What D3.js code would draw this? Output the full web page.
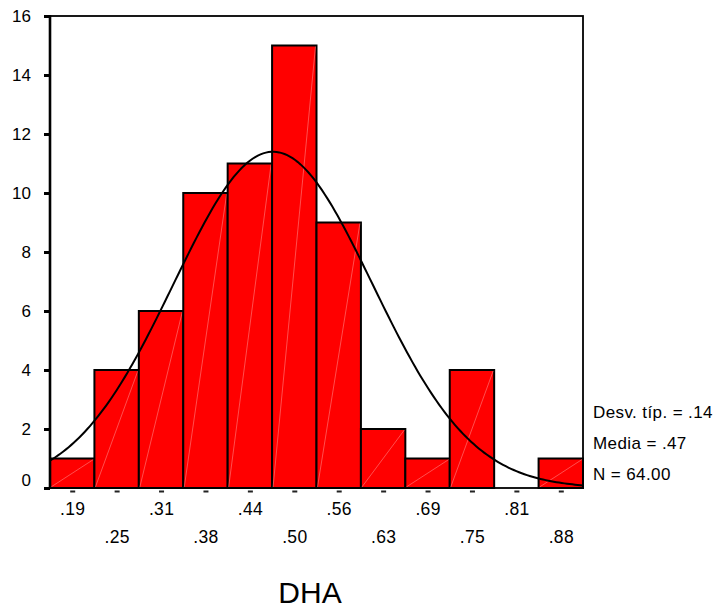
<!DOCTYPE html>
<html><head><meta charset="utf-8">
<script src="https://cdn.jsdelivr.net/npm/d3@7"></script>
<style>body{margin:0;background:#fff}svg{display:block}text{font-family:"Liberation Sans",Arial,sans-serif;fill:#000}</style>
</head><body><svg id="c" width="719" height="610"></svg>
<script>
const binCenters = [0.1875,0.25,0.3125,0.375,0.4375,0.5,0.5625,0.625,0.6875,0.75,0.8125,0.875];
const binLabels = [".19",".25",".31",".38",".44",".50",".56",".63",".69",".75",".81",".88"];
const counts = [1,4,6,10,11,15,9,2,1,4,0,1];
const yTicks = [0,2,4,6,8,10,12,14,16];
const statsLabels = ["Desv. típ. = .14","Media = .47","N = 64.00"];
const stdDev = 0.14, mean = 0.47, nTotal = 64;
const xTitle = "DHA";

const binW = 0.0625;
const svg = d3.select("#c");
const L=50, R=583, T=16, B=488;
const x = d3.scaleLinear().domain([binCenters[0]-binW/2, binCenters[binCenters.length-1]+binW/2]).range([L,R]);
const y = d3.scaleLinear().domain([0,16]).range([B,T]);

// bars
const bars = svg.append("g");
binCenters.forEach((c,i)=>{
  if(counts[i]<=0) return;
  const x0=x(c-binW/2), x1=x(c+binW/2), y0=y(counts[i]);
  bars.append("rect").attr("x",x0).attr("y",y0).attr("width",x1-x0).attr("height",B-y0)
    .attr("fill","#ff0000").attr("stroke","#000").attr("stroke-width",2);
  bars.append("line").attr("x1",x0+1).attr("y1",B-1).attr("x2",x1-1).attr("y2",y0+1)
    .attr("stroke","#ffa0a0").attr("stroke-width",0.7).attr("opacity",0.7);
});

// frame
svg.append("rect").attr("x",L).attr("y",T).attr("width",R-L).attr("height",B-T)
  .attr("fill","none").attr("stroke","#000").attr("stroke-width",1.8);
svg.append("line").attr("x1",L).attr("x2",L).attr("y1",T-1).attr("y2",B+1).attr("stroke","#000").attr("stroke-width",2.6);

// normal curve
const normPts = d3.range(0,201).map(k=>{
  const v = x.domain()[0] + k*(x.domain()[1]-x.domain()[0])/200;
  const d = nTotal*binW/(stdDev*Math.sqrt(2*Math.PI))*Math.exp(-0.5*((v-mean)/stdDev)**2);
  return [x(v), y(d)];
});
svg.append("path").attr("d",d3.line()(normPts)).attr("fill","none").attr("stroke","#000").attr("stroke-width",2);

// y axis ticks
const yAxis = d3.axisLeft(y).tickValues(yTicks).tickSize(6).tickPadding(13).tickFormat(d3.format("d"));
const ga = svg.append("g").attr("transform",`translate(${L},0)`).call(yAxis);
ga.select(".domain").remove();
ga.selectAll(".tick line").attr("stroke","#000").attr("stroke-width",3);
ga.selectAll(".tick text").attr("font-size",17).attr("font-family","Liberation Sans, Arial, sans-serif")
  .attr("dy", d=> d===0 ? "-0.15em" : "0.32em");

// x axis ticks
const xAxis = d3.axisBottom(x).tickValues(binCenters).tickSize(0).tickFormat((d,i)=>binLabels[i]);
const gx = svg.append("g").attr("transform",`translate(0,${B})`).call(xAxis);
gx.select(".domain").remove();
gx.selectAll(".tick text").attr("font-size",17.5).attr("font-family","Liberation Sans, Arial, sans-serif")
  .attr("letter-spacing","0.3px")
  .attr("y",(d,i)=> i%2===0 ? 27 : 54.5).attr("dy",0);
gx.selectAll(".tick").append("rect").attr("x",-2.5).attr("y",2.5).attr("width",5).attr("height",2).attr("fill","#222");

// stats
svg.append("g").selectAll("text").data(statsLabels).join("text")
  .attr("x",593).attr("y",(d,i)=>418+i*31).attr("font-size",17).attr("letter-spacing","0.4px").text(d=>d);

// title
svg.append("text").attr("x",310).attr("y",603).attr("text-anchor","middle").attr("font-size",30).text(xTitle);
</script></body></html>
